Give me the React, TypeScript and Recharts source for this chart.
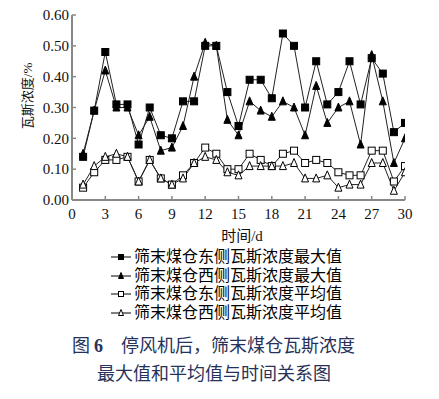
import React from 'react';
import { LineChart, Line, XAxis, YAxis, Legend } from 'recharts';

const days = [1, 2, 3, 4, 5, 6, 7, 8, 9, 10, 11, 12, 13, 14, 15, 16, 17, 18, 19, 20, 21, 22, 23, 24, 25, 26, 27, 28, 29, 30];
const eastMax = [0.14, 0.29, 0.48, 0.31, 0.31, 0.18, 0.30, 0.21, 0.20, 0.32, 0.32, 0.50, 0.50, 0.35, 0.24, 0.39, 0.39, 0.33, 0.54, 0.50, 0.30, 0.45, 0.31, 0.35, 0.45, 0.31, 0.46, 0.41, 0.22, 0.25];
const westMax = [0.15, 0.29, 0.42, 0.30, 0.30, 0.21, 0.27, 0.16, 0.17, 0.24, 0.40, 0.51, 0.50, 0.26, 0.21, 0.32, 0.29, 0.27, 0.32, 0.30, 0.21, 0.37, 0.25, 0.30, 0.32, 0.18, 0.47, 0.32, 0.12, 0.20];
const eastAvg = [0.04, 0.09, 0.13, 0.13, 0.14, 0.06, 0.13, 0.07, 0.05, 0.08, 0.12, 0.17, 0.15, 0.10, 0.10, 0.15, 0.13, 0.11, 0.15, 0.16, 0.12, 0.13, 0.12, 0.09, 0.08, 0.08, 0.16, 0.16, 0.06, 0.11];
const westAvg = [0.05, 0.11, 0.14, 0.15, 0.14, 0.06, 0.13, 0.07, 0.05, 0.07, 0.12, 0.14, 0.13, 0.09, 0.08, 0.11, 0.11, 0.11, 0.11, 0.12, 0.07, 0.07, 0.08, 0.04, 0.05, 0.05, 0.12, 0.12, 0.03, 0.09];

const xTicks = [0, 3, 6, 9, 12, 15, 18, 21, 24, 27, 30];
const yTicks = [0, 0.1, 0.2, 0.3, 0.4, 0.5, 0.6];

const seriesNames = [
  '筛末煤仓东侧瓦斯浓度最大值',
  '筛末煤仓西侧瓦斯浓度最大值',
  '筛末煤仓东侧瓦斯浓度平均值',
  '筛末煤仓西侧瓦斯浓度平均值',
];

const data = days.map((d, i) => ({
  day: d,
  eastMax: eastMax[i],
  westMax: westMax[i],
  eastAvg: eastAvg[i],
  westAvg: westAvg[i],
}));

const serif = '"Liberation Serif", "Noto Sans CJK SC", serif';
const cjk = '"Liberation Serif", "Noto Sans CJK SC", sans-serif';

type Shape = 'square' | 'triangle' | 'openSquare' | 'openTriangle';

function Marker({ cx, cy, shape, s }: { cx: number; cy: number; shape: Shape; s: number }) {
  const h = s / 2;
  if (shape === 'square' || shape === 'openSquare') {
    const filled = shape === 'square';
    return (
      <rect x={cx - h} y={cy - h} width={s} height={s}
        fill={filled ? '#000' : '#fff'} stroke="#000" strokeWidth={1} />
    );
  }
  const filled = shape === 'triangle';
  const pts = `${cx},${cy - h - 1} ${cx - h},${cy + h} ${cx + h},${cy + h}`;
  return <polygon points={pts} fill={filled ? '#000' : '#fff'} stroke="#000" strokeWidth={1} />;
}

const dotFor = (shape: Shape) => (props: any) => {
  const { cx, cy, index } = props;
  if (cx == null || cy == null) return <g key={index} />;
  return <Marker key={`${shape}-${index}`} cx={cx} cy={cy} shape={shape} s={7} />;
};

const shapes: Shape[] = ['square', 'triangle', 'openSquare', 'openTriangle'];

function LegendBox() {
  return (
    <div style={{ fontFamily: cjk, fontSize: 16, color: '#000', lineHeight: '18.5px' }}>
      {seriesNames.map((name, i) => (
        <div key={name} style={{ display: 'flex', alignItems: 'center', height: 18.5 }}>
          <svg width={22} height={18} style={{ marginRight: 2 }}>
            <line x1={1} y1={9} x2={21} y2={9} stroke="#000" strokeWidth={1} />
            <Marker cx={11} cy={9} shape={shapes[i]} s={5} />
          </svg>
          <span>{name}</span>
        </div>
      ))}
    </div>
  );
}

export default function App() {
  return (
    <div style={{ position: 'absolute', left: 0, top: 0, width: 439, height: 399, background: '#fff' }}>
      <LineChart width={439} height={399} data={data}
        margin={{ top: 15, right: 34, left: 0, bottom: 169 }}>
        <XAxis dataKey="day" type="number" domain={[0, 30]} ticks={xTicks}
          allowDataOverflow
          axisLine={{ stroke: '#888', strokeWidth: 2 }}
          tickLine={{ stroke: '#888', strokeWidth: 1.5 }}
          tickSize={-4} tickMargin={12} height={30}
          tick={{ fill: '#111', fontSize: 15, fontFamily: serif }} />
        <YAxis type="number" domain={[0, 0.6]} ticks={yTicks} width={72}
          allowDataOverflow
          tickFormatter={(v: number) => v.toFixed(2)}
          axisLine={{ stroke: '#888', strokeWidth: 2 }}
          tickLine={{ stroke: '#888', strokeWidth: 1.5 }}
          tickSize={-4} tickMargin={7}
          tick={{ fill: '#111', fontSize: 15, fontFamily: serif }} />
        <Line dataKey="eastAvg" stroke="#222" strokeWidth={1} isAnimationActive={false} dot={dotFor('openSquare')} />
        <Line dataKey="westAvg" stroke="#222" strokeWidth={1} isAnimationActive={false} dot={dotFor('openTriangle')} />
        <Line dataKey="westMax" stroke="#222" strokeWidth={1} isAnimationActive={false} dot={dotFor('triangle')} />
        <Line dataKey="eastMax" stroke="#222" strokeWidth={1} isAnimationActive={false} dot={dotFor('square')} />
        <Legend layout="vertical" align="center" verticalAlign="middle"
          wrapperStyle={{ top: 248, left: 110, width: 260 }}
          content={() => <LegendBox />} />
      </LineChart>

      {/* axis titles */}
      <div style={{
        position: 'absolute', left: 26, top: 96, transform: 'translate(-50%, -50%) rotate(-90deg)',
        fontFamily: cjk, fontSize: 13, whiteSpace: 'nowrap', color: '#111',
      }}>瓦斯浓度/%</div>
      <div style={{
        position: 'absolute', left: 242, top: 234, transform: 'translate(-50%, -50%)',
        fontFamily: cjk, fontSize: 15, whiteSpace: 'nowrap', color: '#111',
      }}>时间/d</div>

      {/* caption */}
      <div style={{
        position: 'absolute', left: 72, top: 335, fontFamily: cjk, fontSize: 18,
        color: '#26325a', whiteSpace: 'nowrap', lineHeight: '22px',
      }}>
        <span>图</span><span style={{ fontWeight: 'bold', marginLeft: 4 }}>6</span>
        <span style={{ marginLeft: 18 }}>停风机后，筛末煤仓瓦斯浓度</span>
      </div>
      <div style={{
        position: 'absolute', left: 97, top: 363, fontFamily: cjk, fontSize: 18,
        color: '#26325a', whiteSpace: 'nowrap', lineHeight: '22px',
      }}>最大值和平均值与时间关系图</div>
    </div>
  );
}
